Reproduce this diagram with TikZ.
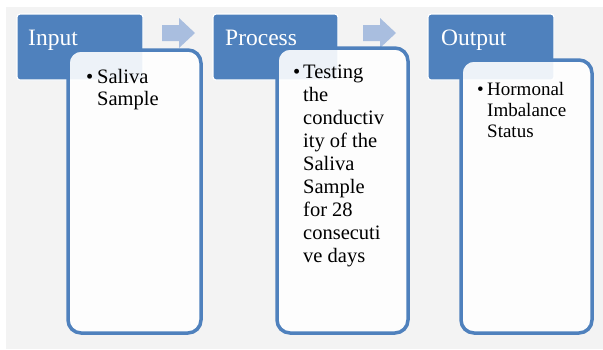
\documentclass[tikz,border=0pt]{standalone}
\usepackage{fontspec}
\setmainfont{Liberation Serif}
\definecolor{hdrblue}{HTML}{4F81BD}
\definecolor{arrblue}{HTML}{A9BEDF}
\definecolor{bggray}{HTML}{F3F3F3}
\begin{document}
\begin{tikzpicture}[x=1pt,y=-1pt,
  header/.style={fill=hdrblue,draw=white,line width=1.2pt,rounded corners=3pt},
  content/.style={fill=white,fill opacity=0.9,draw=hdrblue,draw opacity=1,line width=3.5pt,rounded corners=13pt},
  flowarrow/.style={fill=arrblue,draw=none},
  htext/.style={anchor=base west,inner sep=0pt,text=white,font=\fontsize{23.5}{26}\selectfont},
  btext/.style={anchor=base west,inner sep=0pt,text=black,font=\fontsize{20.5}{23}\selectfont},
  otext/.style={anchor=base west,inner sep=0pt,text=black,font=\fontsize{19}{21.5}\selectfont}]
\useasboundingbox (0,0) rectangle (603,349);
\fill[white] (0,0) rectangle (603,349);
\fill[bggray] (6,7) rectangle (603,349);
% headers
\path[header] (17,14) rectangle (143,80);
\path[header] (213,14) rectangle (338,80);
\path[header] (428,14) rectangle (554,80);
% arrows
\path[flowarrow] (162,25) -- (179,25) -- (179,18) -- (195,33) -- (179,48) -- (179,41) -- (162,41) -- cycle;
\path[flowarrow] (363,25) -- (380,25) -- (380,18) -- (396,33) -- (380,48) -- (380,41) -- (363,41) -- cycle;
% content boxes
\path[content] (68,50) rectangle (201,333);
\path[content] (277,48) rectangle (408,333);
\path[content] (461,60) rectangle (592,333);
% header texts
\node[htext] (hin) at (28,45) {Input};
\node[htext] (hpr) at (225,45) {Process};
\node[htext] (hout) at (441,45) {Output};
% body texts
\node[btext] (b1) at (86,83) {\textbullet};
\node[btext] (t1) at (97,83) {\vtop{\baselineskip=22pt\hbox{Saliva}\hbox{Sample}}};
\node[btext] (b2) at (293,78) {\textbullet};
\node[btext] (t2) at (303,78) {\vtop{\baselineskip=23pt\hbox{Testing}\hbox{the}\hbox{conductiv}\hbox{ity of the}\hbox{Saliva}\hbox{Sample}\hbox{for 28}\hbox{consecuti}\hbox{ve days}}};
\node[otext] (b3) at (477,95) {\textbullet};
\node[otext] (t3) at (487,95) {\vtop{\baselineskip=21pt\hbox{Hormonal}\hbox{Imbalance}\hbox{Status}}};
\end{tikzpicture}
\end{document}
